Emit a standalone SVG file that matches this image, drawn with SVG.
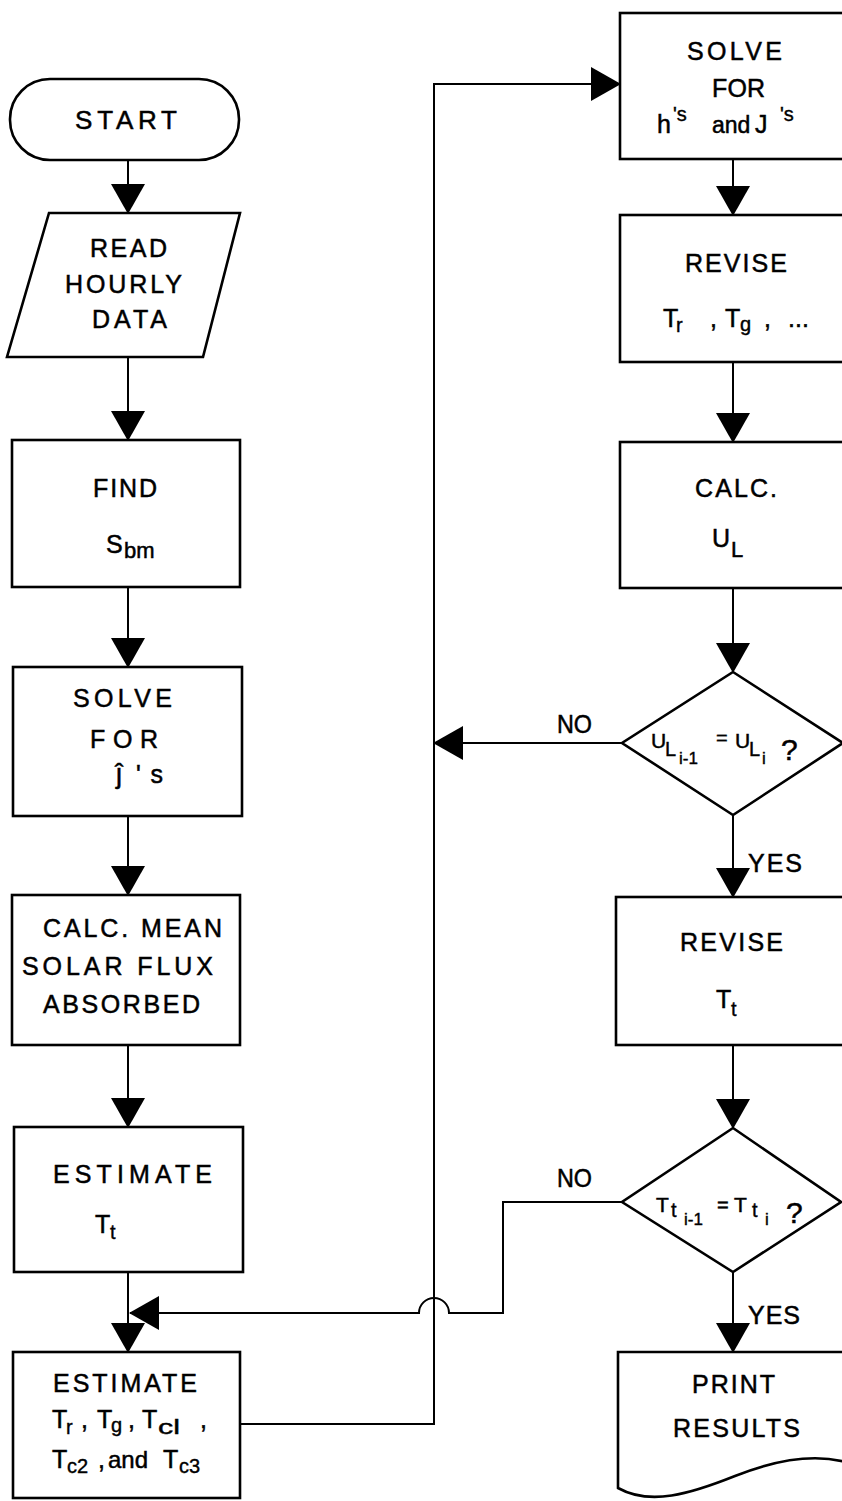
<svg xmlns="http://www.w3.org/2000/svg" width="842" height="1501" viewBox="0 0 842 1501">
<style>
.box{fill:#fff;stroke:#000;stroke-width:2.6}
.ln{fill:none;stroke:#000;stroke-width:2}
.t{font-family:"Liberation Sans",Arial,sans-serif;font-size:25px;fill:#000;stroke:#000;stroke-width:0.5}
.s{font-family:"Liberation Sans",Arial,sans-serif;font-size:20px;fill:#000;stroke:#000;stroke-width:0.4}
</style>
<defs>
<marker id="arr" markerUnits="userSpaceOnUse" viewBox="0 0 30 34" refX="29" refY="17" markerWidth="30" markerHeight="34" orient="auto">
<path d="M0,0 L30,17 L0,34 Z" fill="#000"/>
</marker>
</defs>
<rect width="842" height="1501" fill="#fff"/>

<g id="connectors">
<line class="ln" x1="128" y1="160" x2="128" y2="213" marker-end="url(#arr)"/>
<line class="ln" x1="128" y1="357" x2="128" y2="440" marker-end="url(#arr)"/>
<line class="ln" x1="128" y1="587" x2="128" y2="667" marker-end="url(#arr)"/>
<line class="ln" x1="128" y1="816" x2="128" y2="895" marker-end="url(#arr)"/>
<line class="ln" x1="128" y1="1045" x2="128" y2="1127" marker-end="url(#arr)"/>
<line class="ln" x1="128" y1="1272" x2="128" y2="1352" marker-end="url(#arr)"/>
<path class="ln" d="M240 1424 H434 V84 H620" marker-end="url(#arr)"/>
<line class="ln" x1="733" y1="159" x2="733" y2="215" marker-end="url(#arr)"/>
<line class="ln" x1="733" y1="362" x2="733" y2="442" marker-end="url(#arr)"/>
<line class="ln" x1="733" y1="588" x2="733" y2="672" marker-end="url(#arr)"/>
<line class="ln" x1="622" y1="743" x2="434" y2="743" marker-end="url(#arr)"/>
<line class="ln" x1="733" y1="815" x2="733" y2="897" marker-end="url(#arr)"/>
<line class="ln" x1="733" y1="1045" x2="733" y2="1128" marker-end="url(#arr)"/>
<path class="ln" d="M622 1202 H503 V1313 H449 A15 15 0 0 0 419 1313 H130" marker-end="url(#arr)"/>
<line class="ln" x1="733" y1="1272" x2="733" y2="1352" marker-end="url(#arr)"/>
<text class="t" x="557" y="733" textLength="35" lengthAdjust="spacingAndGlyphs">NO</text>
<text class="t" x="748" y="872" textLength="54" lengthAdjust="spacing">YES</text>
<text class="t" x="557" y="1187" textLength="35" lengthAdjust="spacingAndGlyphs">NO</text>
<text class="t" x="748" y="1324" textLength="52" lengthAdjust="spacing">YES</text>
</g>

<g id="start">
<rect class="box" x="10" y="79" width="229" height="81" rx="40" ry="40"/>
<text class="t" x="75" y="129" style="font-size:26px" textLength="102" lengthAdjust="spacing">START</text>
</g>

<g id="read">
<polygon class="box" points="49,213 240,213 203,357 7,357"/>
<text class="t" x="90" y="257" textLength="77" lengthAdjust="spacing">READ</text>
<text class="t" x="65" y="293" textLength="117" lengthAdjust="spacing">HOURLY</text>
<text class="t" x="92" y="328" textLength="75" lengthAdjust="spacing">DATA</text>
</g>

<g id="find">
<rect class="box" x="12" y="440" width="228" height="147"/>
<text class="t" x="93" y="497" textLength="64" lengthAdjust="spacing">FIND</text>
<text class="t" x="106" y="553">S</text>
<text class="t" x="124" y="558" style="font-size:22px">bm</text>
</g>

<g id="solveJ">
<rect class="box" x="13" y="667" width="229" height="149"/>
<text class="t" x="73" y="707" textLength="99" lengthAdjust="spacing">SOLVE</text>
<text class="t" x="90" y="748" textLength="68" lengthAdjust="spacing">FOR</text>
<text class="t" x="116" y="783" style="font-size:27px">ĵ</text>
<text class="t" x="136" y="783" textLength="27" lengthAdjust="spacing">'s</text>
</g>

<g id="calcFlux">
<rect class="box" x="12" y="895" width="228" height="150"/>
<text class="t" x="43" y="937" textLength="179" lengthAdjust="spacing">CALC. MEAN</text>
<text class="t" x="22" y="975" textLength="191" lengthAdjust="spacing">SOLAR FLUX</text>
<text class="t" x="43" y="1013" textLength="157" lengthAdjust="spacing">ABSORBED</text>
</g>

<g id="estimateTt">
<rect class="box" x="14" y="1127" width="229" height="145"/>
<text class="t" x="53" y="1183" textLength="159" lengthAdjust="spacing">ESTIMATE</text>
<text class="t" x="95" y="1233">T</text>
<text class="s" x="110" y="1239">t</text>
</g>

<g id="estimateTemps">
<rect class="box" x="13" y="1352" width="227" height="146"/>
<text class="t" x="53" y="1392" textLength="144" lengthAdjust="spacing">ESTIMATE</text>
<text class="t" x="52" y="1428">T</text>
<text class="s" x="66" y="1434">r</text>
<text class="t" x="81" y="1428">,</text>
<text class="t" x="97" y="1428">T</text>
<text class="s" x="111" y="1432">g</text>
<text class="t" x="128" y="1428">,</text>
<text class="t" x="142" y="1428">T</text>
<text class="s" x="158" y="1434" textLength="22" lengthAdjust="spacingAndGlyphs">cl</text>
<text class="t" x="200" y="1428">,</text>
<text class="t" x="52" y="1468">T</text>
<text class="s" x="67" y="1473">c2</text>
<text class="t" x="98" y="1468">,</text>
<text class="t" x="108" y="1468" style="font-size:24px">and</text>
<text class="t" x="163" y="1468">T</text>
<text class="s" x="179" y="1473">c3</text>
</g>

<g id="solveH">
<rect class="box" x="620" y="13" width="226" height="146"/>
<text class="t" x="687" y="60" textLength="95" lengthAdjust="spacing">SOLVE</text>
<text class="t" x="712" y="97" textLength="53" lengthAdjust="spacing">FOR</text>
<text class="t" x="657" y="133">h</text>
<text class="s" x="673" y="121">'s</text>
<text class="t" x="712" y="133" style="font-size:23px">and</text>
<text class="t" x="755" y="133">J</text>
<text class="s" x="780" y="121">'s</text>
</g>

<g id="revise1">
<rect class="box" x="620" y="215" width="226" height="147"/>
<text class="t" x="685" y="272" textLength="102" lengthAdjust="spacing">REVISE</text>
<text class="t" x="663" y="327">T</text>
<text class="s" x="676" y="332">r</text>
<text class="t" x="710" y="327">,</text>
<text class="t" x="725" y="327">T</text>
<text class="s" x="740" y="331">g</text>
<text class="t" x="764" y="327">,</text>
<text class="t" x="788" y="327">...</text>
</g>

<g id="calcUL">
<rect class="box" x="620" y="442" width="226" height="146"/>
<text class="t" x="695" y="497" textLength="82" lengthAdjust="spacing">CALC.</text>
<text class="t" x="712" y="547">U</text>
<text class="t" x="731" y="557" style="font-size:22px">L</text>
</g>

<g id="decisionUL">
<polygon class="box" points="733,672 843,743 733,815 622,743"/>
<text class="t" x="651" y="748" style="font-size:21px">U</text>
<text class="s" x="665" y="756">L</text>
<text class="s" x="679" y="764" style="font-size:17px">i-1</text>
<text class="s" x="716" y="745">=</text>
<text class="t" x="735" y="748" style="font-size:21px">U</text>
<text class="s" x="749" y="756">L</text>
<text class="s" x="762" y="764" style="font-size:17px">i</text>
<text class="t" x="781" y="760" style="font-size:30px">?</text>
</g>

<g id="reviseTt">
<rect class="box" x="616" y="897" width="230" height="148"/>
<text class="t" x="680" y="951" textLength="103" lengthAdjust="spacing">REVISE</text>
<text class="t" x="716" y="1008">T</text>
<text class="s" x="731" y="1016">t</text>
</g>

<g id="decisionTt">
<polygon class="box" points="733,1128 841,1202 733,1272 622,1202"/>
<text class="t" x="656" y="1212" style="font-size:21px">T</text>
<text class="s" x="671" y="1217">t</text>
<text class="s" x="684" y="1225" style="font-size:17px">i-1</text>
<text class="t" x="717" y="1212" style="font-size:20px">=</text>
<text class="t" x="734" y="1212" style="font-size:21px">T</text>
<text class="s" x="752" y="1217">t</text>
<text class="s" x="765" y="1225" style="font-size:17px">i</text>
<text class="t" x="786" y="1223" style="font-size:30px">?</text>
</g>

<g id="print">
<path class="box" d="M846 1352 H618 V1488 C650 1506 690 1494 735 1476 S815 1454 846 1462 Z"/>
<text class="t" x="692" y="1393" textLength="83" lengthAdjust="spacing">PRINT</text>
<text class="t" x="673" y="1437" textLength="127" lengthAdjust="spacing">RESULTS</text>
</g>
</svg>
